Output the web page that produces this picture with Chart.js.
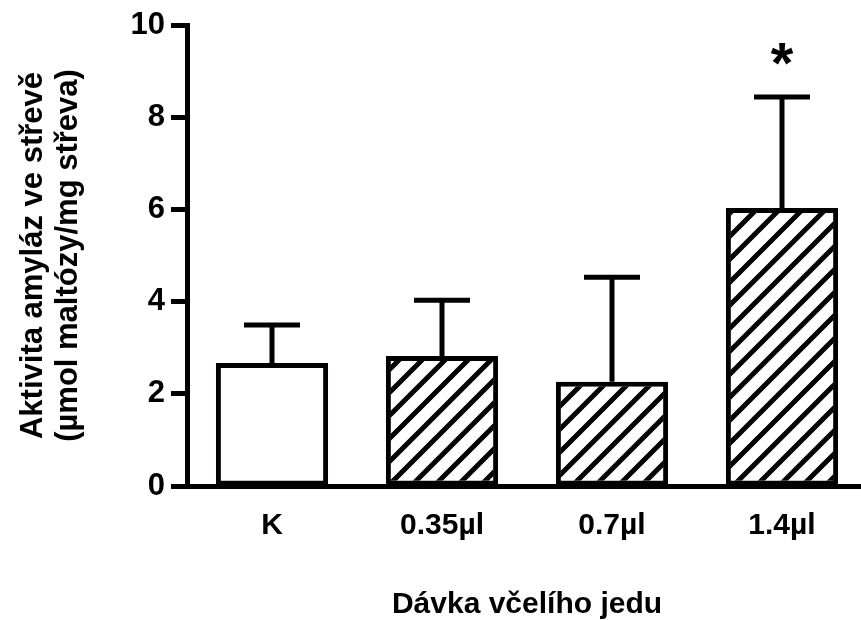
<!DOCTYPE html>
<html>
<head>
<meta charset="utf-8">
<script src="https://cdn.jsdelivr.net/npm/chart.js@4.4.1/dist/chart.umd.min.js"></script>
<style>
  html, body { margin: 0; padding: 0; background: #fff; overflow: hidden; }
  #wrap { width: 870px; height: 620px; }
</style>
</head>
<body>
<div id="wrap"><canvas id="amylasePlot"></canvas></div>
<script>
const doses = ['K', '0.35µl', '0.7µl', '1.4µl'];
const meanActivity = [2.67, 2.82, 2.26, 6.03];
const sdActivity = [0.82, 1.21, 2.27, 2.41];
const significance = ['', '', '', '*'];
const yTicks = [0, 2, 4, 6, 8, 10];

const font = 'Liberation Sans, Arial, sans-serif';

// Diagonal hatch ("/") used on the treated groups
const makeHatch = () => {
    const size = 23;
    const c = document.createElement('canvas');
    c.width = size;
    c.height = size;
    const g = c.getContext('2d');
    g.fillStyle = '#fff';
    g.fillRect(0, 0, size, size);
    g.strokeStyle = '#000';
    g.lineWidth = 5;
    g.beginPath();
    g.moveTo(-2, size + 2);
    g.lineTo(size + 2, -2);
    g.moveTo(-size / 2 - 2, size / 2 + 2);
    g.lineTo(size / 2 + 2, -size / 2 - 2);
    g.moveTo(size / 2 - 2, size * 1.5 + 2);
    g.lineTo(size * 1.5 + 2, size / 2 - 2);
    g.stroke();
    return g.createPattern(c, 'repeat');
};

const canvas = document.getElementById('amylasePlot');
const hatch = makeHatch();
const fills = doses.map((d, i) => (i === 0 ? '#fff' : hatch));

// Upper error bars + significance marks
const errorBars = {
    id: 'errorBars',
    afterDatasetsDraw(chart) {
        const { ctx, scales: { y } } = chart;
        const meta = chart.getDatasetMeta(0);
        ctx.save();
        ctx.strokeStyle = '#000';
        ctx.lineWidth = 5;
        meta.data.forEach((bar, i) => {
            const top = y.getPixelForValue(meanActivity[i] + sdActivity[i]);
            const base = y.getPixelForValue(meanActivity[i]);
            ctx.beginPath();
            ctx.moveTo(bar.x, base);
            ctx.lineTo(bar.x, top);
            ctx.moveTo(bar.x - 28, top);
            ctx.lineTo(bar.x + 28, top);
            ctx.stroke();
            if (significance[i]) {
                ctx.fillStyle = '#000';
                ctx.font = 'bold 58px ' + font;
                ctx.textAlign = 'center';
                ctx.textBaseline = 'middle';
                ctx.fillText(significance[i], bar.x, top - 30);
            }
        });
        ctx.restore();
    }
};

new Chart(canvas, {
    type: 'bar',
    data: {
        labels: doses,
        datasets: [
            {
                data: meanActivity,
                backgroundColor: fills,
                borderColor: '#000',
                borderWidth: 5,
                borderSkipped: false,
                categoryPercentage: 1,
                barPercentage: 0.66
            }
        ]
    },
    options: {
        responsive: true,
        maintainAspectRatio: false,
        animation: false,
        layout: { padding: { left: 0, right: 3, top: 25, bottom: 0 } },
        plugins: { legend: { display: false }, tooltip: { enabled: false } },
        scales: {
            x: {
                grid: { display: false, drawTicks: false },
                border: { color: '#000', width: 5 },
                ticks: { color: '#000', padding: 22, font: { family: font, size: 30, weight: 'bold' } },
                title: {
                    display: true,
                    text: 'Dávka včelího jedu',
                    color: '#000',
                    font: { family: font, size: 30, weight: 'bold', lineHeight: 1 },
                    padding: 0
                },
                afterFit(scale) { scale.height = 134; }
            },
            y: {
                min: 0,
                max: 10,
                afterBuildTicks(scale) { scale.ticks = yTicks.map(v => ({ value: v })); },
                grid: { drawOnChartArea: false, drawTicks: true, tickLength: 16, tickWidth: 5, color: '#000' },
                border: { color: '#000', width: 5 },
                ticks: { color: '#000', padding: 6, font: { family: font, size: 31, weight: 'bold' } },
                title: {
                    display: true,
                    text: ['Aktivita amyláz ve střevě', '(µmol maltózy/mg střeva)'],
                    color: '#000',
                    font: { family: font, size: 31, weight: 'bold', lineHeight: 1.16 },
                    padding: { top: 15, bottom: 0 }
                },
                afterFit(scale) { scale.width = 187; }
            }
        }
    },
    plugins: [errorBars]
});
</script>
</body>
</html>
